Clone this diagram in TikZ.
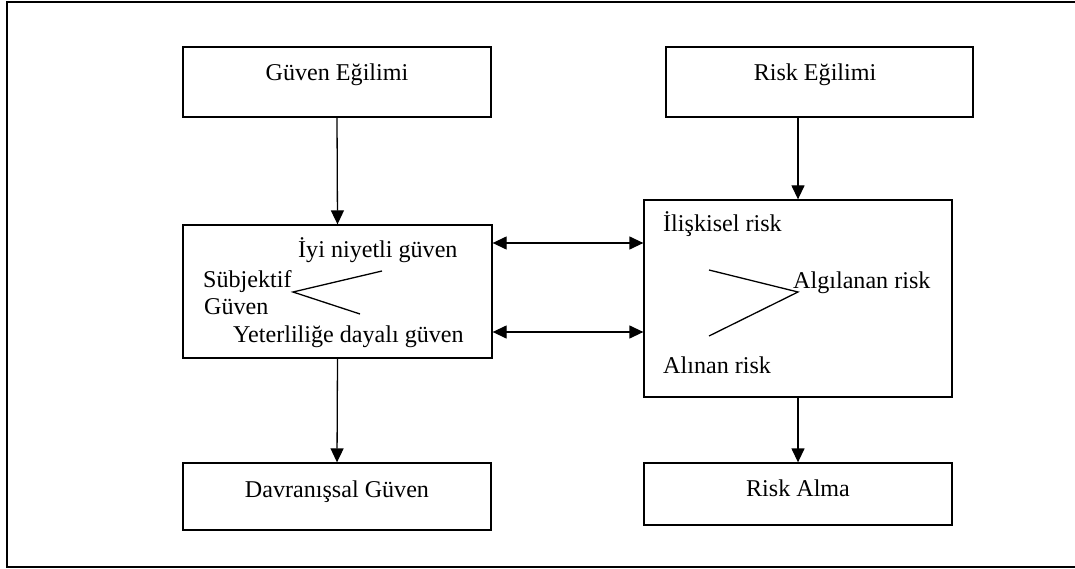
\documentclass[tikz,border=0pt]{standalone}
\usepackage{fontspec}
\setmainfont{Liberation Serif}
\usetikzlibrary{arrows.meta}
\begin{document}
\begin{tikzpicture}[x=1pt,y=-1pt,
  box/.style={draw,line width=1.3pt,rectangle,inner sep=0pt},
  lbl/.style={inner sep=0pt,font=\fontsize{24.1}{28}\selectfont},
  conn/.style={line width=1.3pt,-{Triangle[length=14pt,width=13pt]}},
  dconn/.style={line width=1.3pt,{Triangle[length=14pt,width=13pt]}-{Triangle[length=14pt,width=13pt]}},
  stroke/.style={line width=1.3pt}]
\useasboundingbox (0,0) rectangle (1075,569);
% outer frame (right side extends beyond the picture)
\draw[line width=1.4pt] (1080,2) -- (7,2) -- (7,567) -- (1080,567);
% boxes
\node[box,minimum width=308pt,minimum height=70pt] (ge) at (337,82) {};
\node[box,minimum width=307pt,minimum height=70pt] (re) at (819.5,82) {};
\node[box,minimum width=309pt,minimum height=133pt] (lb) at (337.5,291.5) {};
\node[box,minimum width=308pt,minimum height=197pt] (rb) at (798,298.5) {};
\node[box,minimum width=308pt,minimum height=67pt] (dg) at (337,496.5) {};
\node[box,minimum width=308pt,minimum height=62pt] (ra) at (798,494) {};
% labels
\node[lbl,anchor=base] (tge) at (337,81) {Güven Eğilimi};
\node[lbl,anchor=base] (tre) at (815,81) {Risk Eğilimi};
\node[lbl,anchor=base] (tdg) at (337,497) {Davranışsal Güven};
\node[lbl,anchor=base] (tra) at (798,496) {Risk Alma};
\node[lbl,anchor=base west] (tiyi) at (298,257) {İyi niyetli güven};
\node[lbl,anchor=base west] (tsub) at (203,287) {Sübjektif};
\node[lbl,anchor=base west] (tguv) at (204,314) {Güven};
\node[lbl,anchor=base west] (tyet) at (233,342) {Yeterliliğe dayalı güven};
\node[lbl,anchor=base west] (tili) at (663,232) {İlişkisel risk};
\node[lbl,anchor=base west] (talg) at (793,288) {Algılanan risk};
\node[lbl,anchor=base west] (tali) at (663,373) {Alınan risk};
% branching strokes
\draw[stroke] (382,271) -- (293,292) -- (360,314);
\draw[stroke] (709,270) -- (798,292) -- (709,336);
% connectors
\draw[conn] (ge.south) -- (lb.north);
\draw[conn] (rb.north |- re.south) -- (rb.north);
\draw[conn] (lb.south) -- (dg.north);
\draw[conn] (rb.south) -- (ra.north);
\draw[dconn] (lb.east |- 0,243) -- (rb.west |- 0,243);
\draw[dconn] (lb.east |- 0,332) -- (rb.west |- 0,332);
\end{tikzpicture}
\end{document}
